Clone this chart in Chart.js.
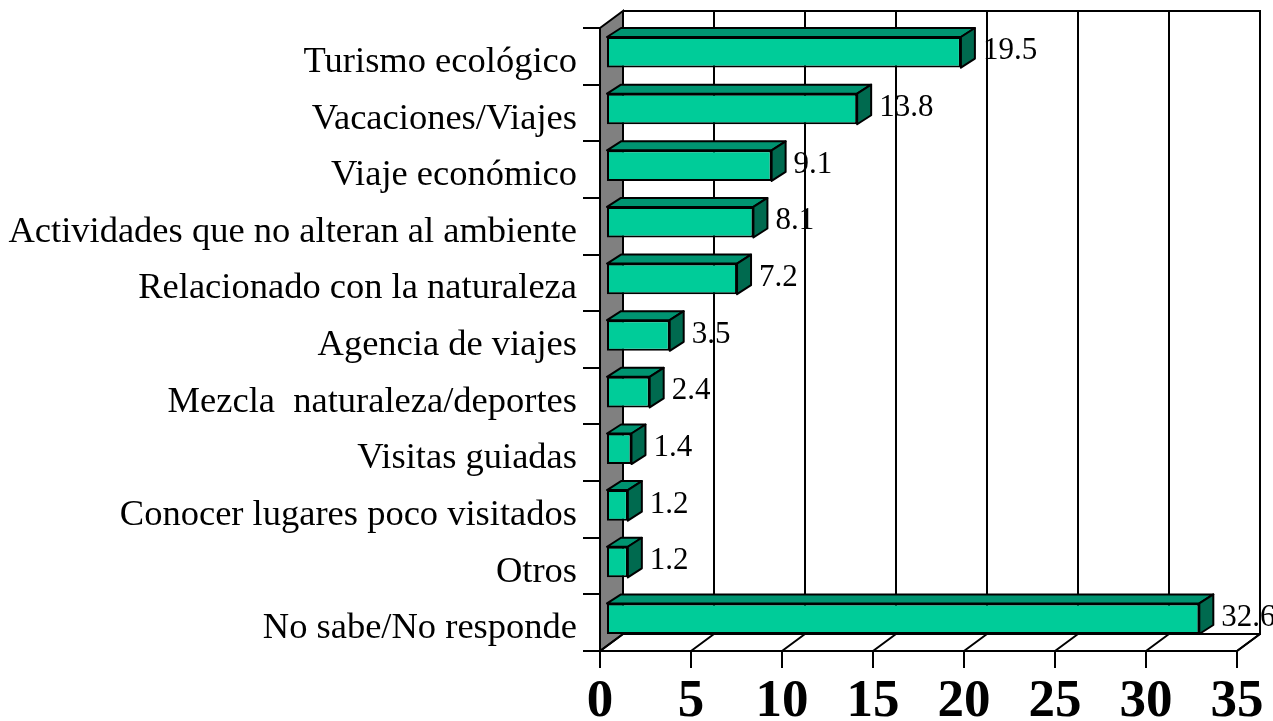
<!doctype html>
<html lang="es">
  <head>
    <meta charset="utf-8">
    <title>Significado de ecoturismo</title>
    <style>
      body { margin: 0; background: #ffffff; }
      #wrap { width: 1273px; height: 721px; position: relative; }
    </style>
  </head>
  <body>
    <div id="wrap"><canvas id="grafico"></canvas></div>
  <script src="https://cdn.jsdelivr.net/npm/chart.js"></script>
  <script>

    const categorias = [
      "Turismo ecológico",
      "Vacaciones/Viajes",
      "Viaje económico",
      "Actividades que no alteran al ambiente",
      "Relacionado con la naturaleza",
      "Agencia de viajes",
      "Mezcla  naturaleza/deportes",
      "Visitas guiadas",
      "Conocer lugares poco visitados",
      "Otros",
      "No sabe/No responde"
    ];
    const porcentajes = [19.5, 13.8, 9.1, 8.1, 7.2, 3.5, 2.4, 1.4, 1.2, 1.2, 32.6];
    const ticksX = [0, 5, 10, 15, 20, 25, 30, 35];

    // profundidad del efecto 3D
    const prof = { x: 23, y: -17 };
    const barraDesp = { x: 6, y: -4 };
    const barraProf = { x: 14, y: -9 };

    const fondo3d = {
      id: 'fondo3d',
      beforeDatasetsDraw(chart) {
        const c = chart.ctx;
        const a = chart.chartArea;
        const sx = chart.scales.x;
        c.save();
        c.strokeStyle = '#000';
        c.lineWidth = 2;
        // pared lateral gris
        c.fillStyle = '#808080';
        c.beginPath();
        c.moveTo(a.left, a.top);
        c.lineTo(a.left + prof.x, a.top + prof.y);
        c.lineTo(a.left + prof.x, a.bottom + prof.y);
        c.lineTo(a.left, a.bottom);
        c.closePath();
        c.fill();
        c.stroke();
        // pared del fondo
        c.beginPath();
        c.moveTo(a.left + prof.x, a.top + prof.y);
        c.lineTo(a.right + prof.x, a.top + prof.y);
        c.lineTo(a.right + prof.x, a.bottom + prof.y);
        c.lineTo(a.left + prof.x, a.bottom + prof.y);
        c.moveTo(a.right + prof.x, a.bottom + prof.y);
        c.lineTo(a.right, a.bottom);
        c.stroke();
        // lineas de division
        ticksX.forEach(v => {
          const px = sx.getPixelForValue(v);
          c.beginPath();
          if (v > 0) {
            c.moveTo(px + prof.x, a.top + prof.y);
            c.lineTo(px + prof.x, a.bottom + prof.y);
          }
          c.moveTo(px + prof.x, a.bottom + prof.y);
          c.lineTo(px, a.bottom);
          c.stroke();
        });
        c.restore();
        c.save();
        c.translate(barraDesp.x, barraDesp.y);
      },
      afterDatasetsDraw(chart) {
        const c = chart.ctx;
        c.restore();
        const meta = chart.getDatasetMeta(0);
        c.save();
        c.strokeStyle = '#000';
        c.lineWidth = 2;
        c.lineJoin = 'round';
        meta.data.forEach((bar, i) => {
          const izq = bar.base + barraDesp.x;
          const der = bar.x + barraDesp.x;
          const arr = bar.y - bar.height / 2 + barraDesp.y;
          const abj = bar.y + bar.height / 2 + barraDesp.y;
          // cara superior
          c.fillStyle = '#009471';
          c.beginPath();
          c.moveTo(izq, arr);
          c.lineTo(izq + barraProf.x, arr + barraProf.y);
          c.lineTo(der + barraProf.x, arr + barraProf.y);
          c.lineTo(der, arr);
          c.closePath();
          c.fill();
          c.stroke();
          // cara lateral
          c.fillStyle = '#006a4f';
          c.beginPath();
          c.moveTo(der, arr);
          c.lineTo(der + barraProf.x, arr + barraProf.y);
          c.lineTo(der + barraProf.x, abj + barraProf.y);
          c.lineTo(der, abj);
          c.closePath();
          c.fill();
          c.stroke();
          // etiqueta
          c.fillStyle = '#000';
          c.font = '31px "Liberation Serif", "Times New Roman", serif';
          c.textAlign = 'left';
          c.textBaseline = 'middle';
          c.fillText(porcentajes[i].toFixed(1), der + barraProf.x + 8, bar.y - 5);
        });
        c.restore();
      }
    };

    new Chart(document.getElementById('grafico'), {
      type: 'bar',
      data: {
        labels: categorias,
        datasets: [{
          data: porcentajes,
          backgroundColor: '#00cc99',
          borderColor: '#000000',
          borderWidth: 2,
          borderSkipped: false,
          categoryPercentage: 1,
          barPercentage: 0.54
        }]
      },
      options: {
        indexAxis: 'y',
        responsive: true,
        maintainAspectRatio: false,
        animation: false,
        layout: { padding: { top: 28, right: 36, left: 0, bottom: 0 } },
        plugins: {
          legend: { display: false },
          tooltip: { enabled: false }
        },
        scales: {
          x: {
            min: 0,
            max: 35,
            afterFit(s) { s.height = 70; },
            afterBuildTicks(s) { s.ticks = ticksX.map(v => ({ value: v })); },
            grid: { drawOnChartArea: false, color: '#000', lineWidth: 2, tickLength: 17 },
            border: { color: '#000', width: 2 },
            ticks: {
              color: '#000',
              padding: 3,
              maxRotation: 0,
              font: { family: '"Liberation Serif", "Times New Roman", serif', size: 53, weight: 'bold' }
            }
          },
          y: {
            afterFit(s) { s.width = 600; },
            grid: { drawOnChartArea: false, color: '#000', lineWidth: 2, tickLength: 17, offset: true },
            border: { color: '#000', width: 2 },
            ticks: {
              color: '#000',
              padding: 6,
              labelOffset: 6,
              font: { family: '"Liberation Serif", "Times New Roman", serif', size: 36.5 }
            }
          }
        }
      },
      plugins: [fondo3d]
    });

  </script>
  </body>
</html>
